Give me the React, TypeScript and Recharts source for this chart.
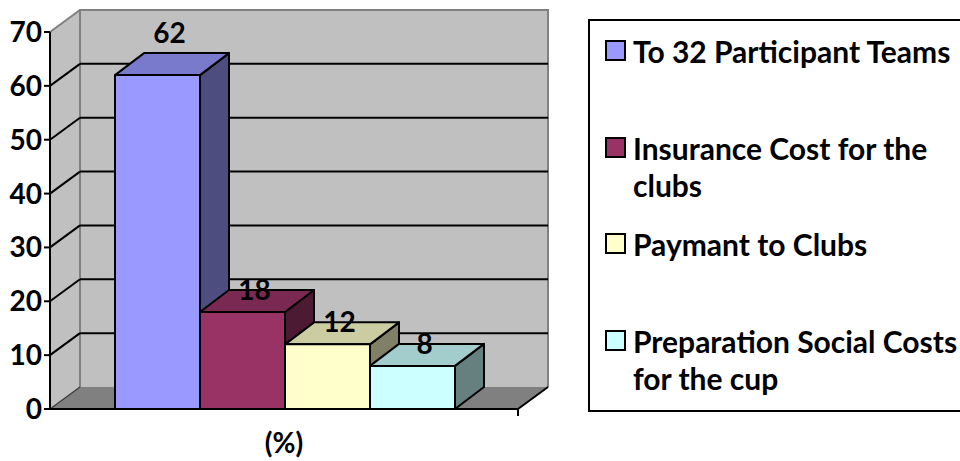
import React from "react";
import {
  BarChart,
  Bar,
  XAxis,
  YAxis,
  CartesianGrid,
  ReferenceArea,
  Legend,
  LabelList,
} from "recharts";

const categories = ["(%)"];
const seriesNames = [
  "To 32 Participant Teams",
  "Insurance Cost for the clubs",
  "Paymant to Clubs",
  "Preparation Social Costs for the cup",
];
const seriesValues = [62, 18, 12, 8];
const seriesColors = ["#9999ff", "#993366", "#ffffcc", "#ccffff"];
const yTicks = [0, 10, 20, 30, 40, 50, 60, 70];

const FONT = "Lato, 'Open Sans', sans-serif";
// depth of the fake 3d box
const WALL_DX = 30;
const BAR_DX = 29;
const DY = -22;

const data = categories.map((name) => {
  const row: Record<string, any> = { name };
  seriesValues.forEach((v, i) => (row["s" + i] = v));
  return row;
});

function shade(hex: string, k: number) {
  const n = parseInt(hex.slice(1), 16);
  const r = Math.round(((n >> 16) & 255) * k);
  const g = Math.round(((n >> 8) & 255) * k);
  const b = Math.round((n & 255) * k);
  return `rgb(${r},${g},${b})`;
}

function Box3D(props: any) {
  const { x, y, width: w, height: h, fill } = props;
  if (w == null || h == null) return null;
  const top = `${x},${y} ${x + BAR_DX},${y + DY} ${x + w + BAR_DX},${y + DY} ${x + w},${y}`;
  const side = `${x + w},${y} ${x + w + BAR_DX},${y + DY} ${x + w + BAR_DX},${y + h + DY} ${x + w},${y + h}`;
  return (
    <g stroke="#000" strokeWidth={2} strokeLinejoin="round">
      <polygon points={side} fill={shade(fill, 0.5)} />
      <polygon points={top} fill={shade(fill, 0.8)} />
      <rect x={x} y={y} width={w} height={h} fill={fill} />
    </g>
  );
}

function Walls(props: any) {
  const { x, y, width: w, height: h } = props;
  const bx = x + WALL_DX;
  const by = y + DY;
  return (
    <g>
      <polygon
        points={`${x},${y} ${bx},${by} ${bx},${by + h} ${x},${y + h}`}
        fill="#c0c0c0"
      />
      <rect x={bx} y={by} width={w} height={h} fill="#c0c0c0" />
      <polygon
        points={`${x},${y + h} ${bx},${by + h} ${bx + w},${by + h} ${x + w},${y + h}`}
        fill="#808080"
      />
      <g stroke="#808080" strokeWidth={2} fill="none">
        <polyline points={`${x},${y} ${bx},${by} ${bx + w},${by} ${bx + w},${by + h}`} />
        <line x1={bx} y1={by} x2={bx} y2={by + h} />
      </g>
      <line x1={x} y1={y + h} x2={bx} y2={by + h} stroke="#404040" strokeWidth={1.5} />
      <line x1={x + w} y1={y + h} x2={bx + w} y2={by + h} stroke="#000" strokeWidth={2} />
      <line x1={x + w} y1={y + h} x2={x + w} y2={y + h + 7} stroke="#000" strokeWidth={2} />
    </g>
  );
}

function GridLine(props: any) {
  const { x1, y1, x2, y, height } = props;
  if (y != null && height != null) {
    if (Math.abs(y1 - y) < 1 || Math.abs(y1 - (y + height)) < 1) return <g />;
  }
  return (
    <g stroke="#000" strokeWidth={2}>
      <line x1={x1} y1={y1} x2={x1 + WALL_DX} y2={y1 + DY} />
      <line x1={x1 + WALL_DX} y1={y1 + DY} x2={x2 + WALL_DX} y2={y1 + DY} />
    </g>
  );
}

const maxValue = Math.max(...seriesValues);

function ValueLabel(props: any) {
  const { x, y, width, value } = props;
  let cy = y + DY;
  if (value === maxValue) cy -= 20;
  return (
    <text
      x={x + width / 2 + 12}
      y={cy}
      dy="0.36em"
      textAnchor="middle"
      fontFamily={FONT}
      fontWeight={700}
      fontSize={28}
      fill="#000"
    >
      {value}
    </text>
  );
}

function CategoryTick(props: any) {
  const { x, y, payload } = props;
  return (
    <text
      x={x}
      y={y + 36}
      textAnchor="middle"
      fontFamily={FONT}
      fontWeight={700}
      fontSize={28}
      fill="#000"
    >
      {payload.value}
    </text>
  );
}

function LegendBox(props: any) {
  const items = [...(props.payload || [])].sort(
    (a: any, b: any) => seriesNames.indexOf(a.value) - seriesNames.indexOf(b.value)
  );
  return (
    <div
      style={{
        border: "2px solid #000",
        background: "#fff",
        width: 380,
        height: 393,
        boxSizing: "border-box",
        paddingTop: 12,
        paddingLeft: 15,
        fontFamily: FONT,
        fontWeight: 700,
        fontSize: 30,
        lineHeight: "37px",
        color: "#000",
        textAlign: "left",
      }}
    >
      {items.map((it: any) => (
        <div key={it.value} style={{ display: "flex", height: 96.7 }}>
          <div
            style={{
              width: 21,
              height: 21,
              boxSizing: "border-box",
              border: "2px solid #000",
              background: it.color,
              marginTop: 7,
              flex: "none",
            }}
          />
          <div style={{ marginLeft: 7, width: 330 }}>{it.value}</div>
        </div>
      ))}
    </div>
  );
}

export default function App() {
  return (
    <div style={{ position: "fixed", left: 0, top: 0, width: 960, height: 461, overflow: "hidden", background: "#fff" }}>
      <BarChart
        width={960}
        height={461}
        data={data}
        margin={{ top: 32, right: 442, bottom: 0, left: 0 }}
        barCategoryGap={65}
        barGap={0}
      >
        <ReferenceArea y1={0} y2={70} shape={<Walls />} zIndex={-200} ifOverflow="visible" />
        <CartesianGrid vertical={false} horizontal={GridLine as any} />
        <XAxis
          dataKey="name"
          height={52}
          tickLine={false}
          axisLine={{ stroke: "#000", strokeWidth: 2 }}
          tick={<CategoryTick />}
        />
        <YAxis
          width={50}
          domain={[0, 70]}
          ticks={yTicks}
          interval={0}
          tickSize={6}
          tickMargin={2}
          tickLine={{ stroke: "#000", strokeWidth: 2 }}
          axisLine={{ stroke: "#000", strokeWidth: 2 }}
          tick={{ fontFamily: FONT, fontWeight: 700, fontSize: 28, fill: "#000" }}
        />
        <Legend
          layout="vertical"
          align="center"
          verticalAlign="middle"
          itemSorter={null as any}
          content={<LegendBox />}
          wrapperStyle={{ position: "absolute", left: 588, top: 19, width: 380 }}
        />
        {seriesNames.map((name, i) => (
          <Bar
            key={name}
            dataKey={"s" + i}
            name={name}
            fill={seriesColors[i]}
            shape={<Box3D />}
            isAnimationActive={false}
          >
            <LabelList dataKey={"s" + i} content={<ValueLabel />} />
          </Bar>
        ))}
      </BarChart>
    </div>
  );
}
